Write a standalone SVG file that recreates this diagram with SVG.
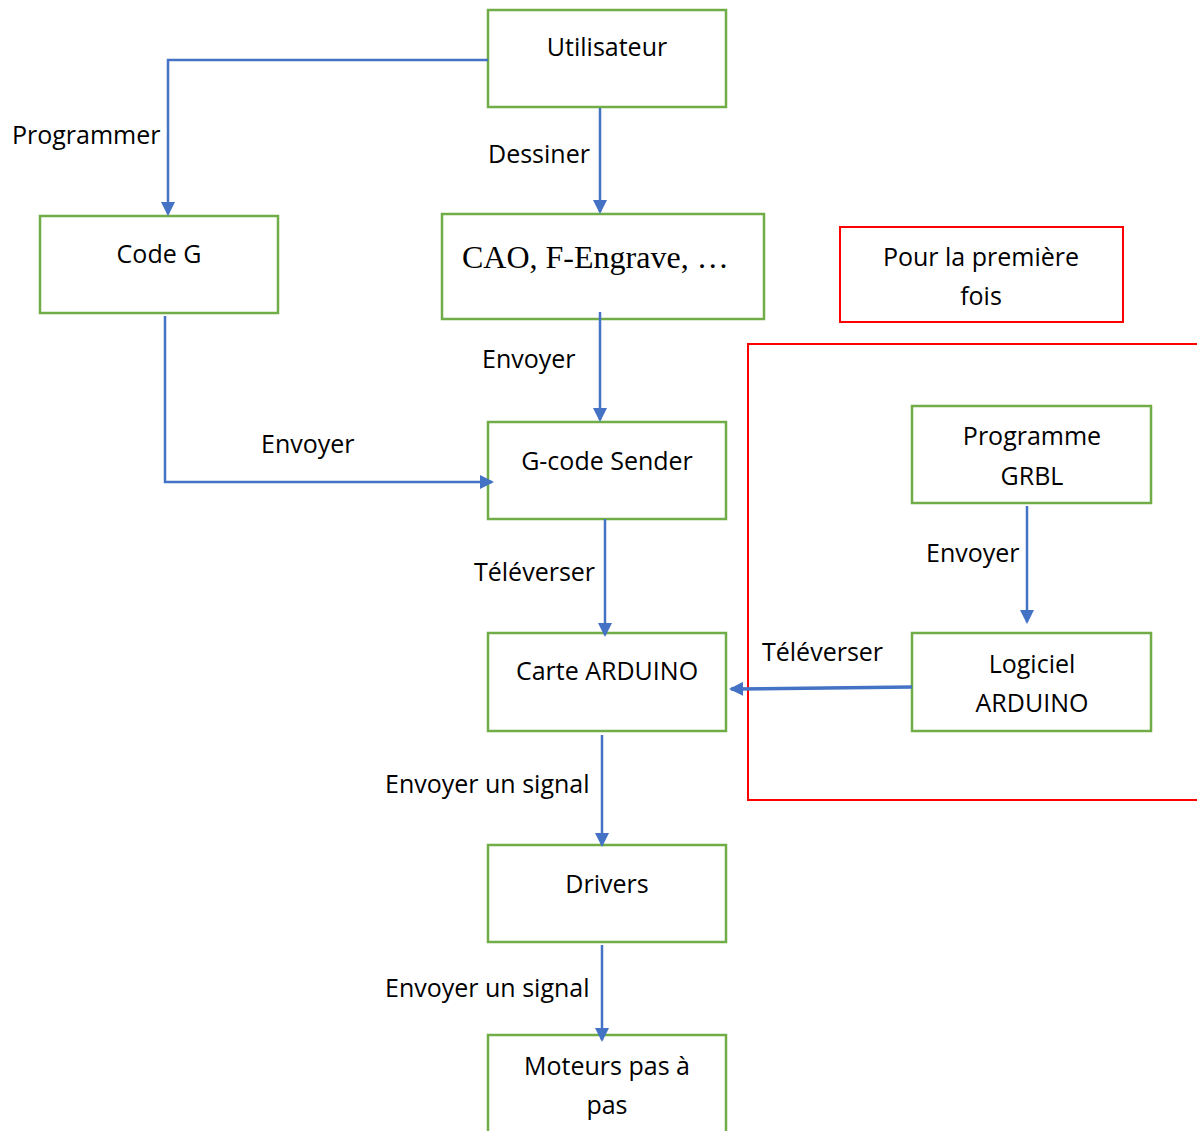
<svg xmlns="http://www.w3.org/2000/svg" width="1197" height="1131" viewBox="0 0 1197 1131">
<style>
.box{fill:#fff;stroke:#70AD47;stroke-width:2.5}
.red{fill:none;stroke:#FF0000;stroke-width:2}
.t{font-family:"Open Sans","Liberation Sans",sans-serif;font-size:25px;fill:#000;text-anchor:middle}
.l{font-family:"Open Sans","Liberation Sans",sans-serif;font-size:25px;fill:#000}
.c{fill:none;stroke:#4472C4;stroke-width:2.5;marker-end:url(#ah)}
</style>
<defs>
<marker id="ah" viewBox="0 0 14 14" refX="12" refY="7" markerWidth="14" markerHeight="14" orient="auto" markerUnits="userSpaceOnUse">
<path d="M0,0 L14,7 L0,14 z" fill="#4472C4"/>
</marker>
</defs>
<rect class="red" x="748" y="344" width="460" height="456"/>
<g id="utilisateur"><rect class="box" x="488" y="10" width="238" height="97"/><text class="t" x="607" y="56">Utilisateur</text></g>
<g id="codeg"><rect class="box" x="40" y="216" width="238" height="97"/><text class="t" x="159" y="263">Code G</text></g>
<g id="cao"><rect class="box" x="442" y="214" width="322" height="105"/><text x="462" y="268" style="font-family:'Liberation Serif',serif;font-size:32px">CAO, F-Engrave, …</text></g>
<g id="note"><rect class="red" x="840" y="227" width="283" height="95"/><text class="t" x="981" y="266">Pour la première</text><text class="t" x="981" y="305">fois</text></g>
<g id="sender"><rect class="box" x="488" y="422" width="238" height="97"/><text class="t" x="607" y="470">G-code Sender</text></g>
<g id="grbl"><rect class="box" x="912" y="406" width="239" height="97"/><text class="t" x="1032" y="445">Programme</text><text class="t" x="1032" y="485">GRBL</text></g>
<g id="logiciel"><rect class="box" x="912" y="633" width="239" height="98"/><text class="t" x="1032" y="673">Logiciel</text><text class="t" x="1032" y="712">ARDUINO</text></g>
<g id="carte"><rect class="box" x="488" y="633" width="238" height="98"/><text class="t" x="607" y="680">Carte ARDUINO</text></g>
<g id="drivers"><rect class="box" x="488" y="845" width="238" height="97"/><text class="t" x="607" y="893">Drivers</text></g>
<g id="moteurs"><rect class="box" x="488" y="1035" width="238" height="110"/><text class="t" x="607" y="1075">Moteurs pas à</text><text class="t" x="607" y="1114">pas</text></g>
<g id="connectors">
<path class="c" d="M488,60 H168 V214"/>
<path class="c" d="M600,108 V212"/>
<path class="c" d="M600,312 V420"/>
<path class="c" d="M165,316 V482 H492"/>
<path class="c" d="M605,519 V635"/>
<path class="c" d="M1027,506 V622"/>
<path class="c" d="M912,687 L731,689" style="stroke-width:3.5"/>
<path class="c" d="M602,735 V845"/>
<path class="c" d="M602,945 V1040"/>
<text class="l" x="12" y="144">Programmer</text>
<text class="l" x="488" y="163">Dessiner</text>
<text class="l" x="482" y="368">Envoyer</text>
<text class="l" x="261" y="453">Envoyer</text>
<text class="l" x="474" y="581">Téléverser</text>
<text class="l" x="926" y="562">Envoyer</text>
<text class="l" x="762" y="661">Téléverser</text>
<text class="l" x="385" y="793">Envoyer un signal</text>
<text class="l" x="385" y="997">Envoyer un signal</text>
</g>
</svg>
